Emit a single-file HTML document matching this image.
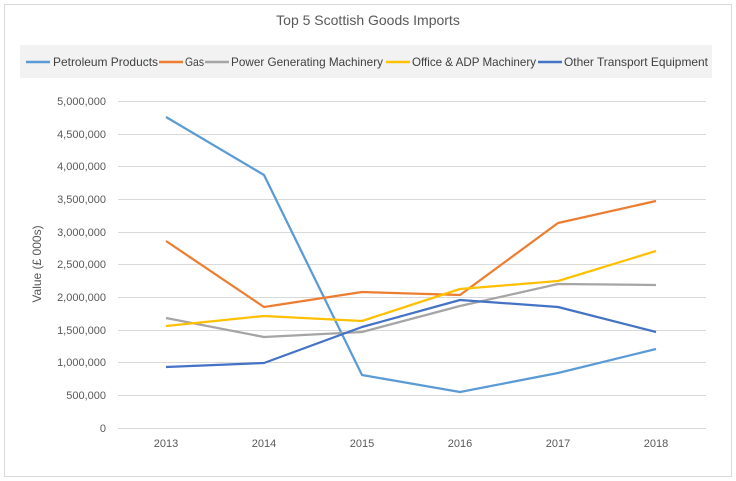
<!DOCTYPE html>
<html><head><meta charset="utf-8"><style>
body{margin:0;background:#fff;}
svg{display:block;font-family:"Liberation Sans",sans-serif;}
</style></head><body>
<svg width="736" height="481" viewBox="0 0 736 481">
<rect x="0" y="0" width="736" height="481" fill="#fff"/>
<rect x="4.5" y="4.5" width="727" height="472" fill="#fff" stroke="#d9d9d9"/>
<text x="368" y="25" text-anchor="middle" font-size="14" fill="#595959">Top 5 Scottish Goods Imports</text>
<rect x="20" y="45" width="692" height="33" fill="#f2f2f2"/>
<g font-size="12" fill="#404040">
<line x1="26" y1="62" x2="50" y2="62" stroke="#5b9bd5" stroke-width="2.5"/><text x="53" y="66" textLength="105" lengthAdjust="spacingAndGlyphs">Petroleum Products</text>
<line x1="159" y1="62" x2="183" y2="62" stroke="#ed7d31" stroke-width="2.5"/><text x="185" y="66" textLength="19" lengthAdjust="spacingAndGlyphs">Gas</text>
<line x1="205" y1="62" x2="229" y2="62" stroke="#a5a5a5" stroke-width="2.5"/><text x="231" y="66" textLength="152" lengthAdjust="spacingAndGlyphs">Power Generating Machinery</text>
<line x1="386" y1="62" x2="410" y2="62" stroke="#ffc000" stroke-width="2.5"/><text x="412" y="66" textLength="124" lengthAdjust="spacingAndGlyphs">Office &amp; ADP Machinery</text>
<line x1="538" y1="62" x2="562" y2="62" stroke="#4472c4" stroke-width="2.5"/><text x="564" y="66" textLength="144" lengthAdjust="spacingAndGlyphs">Other Transport Equipment</text>
</g>
<g stroke="#d9d9d9" stroke-width="1">
<line x1="118" x2="706" y1="101.5" y2="101.5"/>
<line x1="118" x2="706" y1="134.5" y2="134.5"/>
<line x1="118" x2="706" y1="166.5" y2="166.5"/>
<line x1="118" x2="706" y1="199.5" y2="199.5"/>
<line x1="118" x2="706" y1="232.5" y2="232.5"/>
<line x1="118" x2="706" y1="264.5" y2="264.5"/>
<line x1="118" x2="706" y1="297.5" y2="297.5"/>
<line x1="118" x2="706" y1="330.5" y2="330.5"/>
<line x1="118" x2="706" y1="362.5" y2="362.5"/>
<line x1="118" x2="706" y1="395.5" y2="395.5"/>
<line x1="118" x2="706" y1="428.5" y2="428.5"/>
</g>
<g font-size="11" fill="#595959" text-anchor="end">
<text x="106" y="105">5,000,000</text><text x="106" y="138">4,500,000</text><text x="106" y="170">4,000,000</text>
<text x="106" y="203">3,500,000</text><text x="106" y="236">3,000,000</text><text x="106" y="268">2,500,000</text>
<text x="106" y="301">2,000,000</text><text x="106" y="334">1,500,000</text><text x="106" y="366">1,000,000</text>
<text x="106" y="399">500,000</text><text x="106" y="432">0</text>
</g>
<g font-size="11" fill="#595959" text-anchor="middle">
<text x="166" y="447">2013</text><text x="264" y="447">2014</text><text x="362" y="447">2015</text>
<text x="460" y="447">2016</text><text x="558" y="447">2017</text><text x="656" y="447">2018</text>
</g>
<text transform="translate(41,264) rotate(-90)" text-anchor="middle" font-size="12" fill="#595959">Value (£ 000s)</text>
<g fill="none" stroke-width="2.25" stroke-linejoin="round">
<polyline stroke="#5b9bd5" points="166,117 264,175 362,375 460,392 558,373 656,349"/>
<polyline stroke="#ed7d31" points="166,241 264,307 362,292 460,295 558,223 656,201"/>
<polyline stroke="#a5a5a5" points="166,318 264,337 362,332 460,306 558,284 656,285"/>
<polyline stroke="#ffc000" points="166,326 264,316 362,321 460,289 558,281 656,251"/>
<polyline stroke="#4472c4" points="166,367 264,363 362,327 460,300 558,307 656,332"/>
</g>
</svg>
</body></html>
